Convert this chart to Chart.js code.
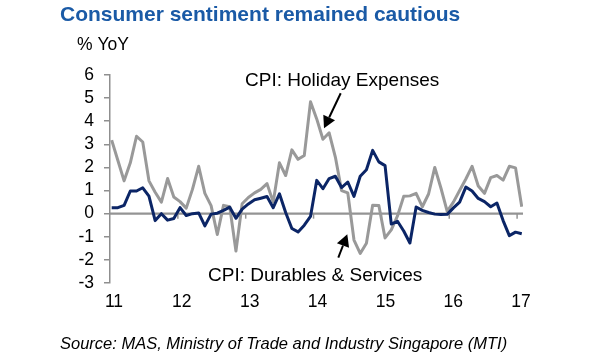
<!DOCTYPE html>
<html>
<head>
<meta charset="utf-8">
<script src="https://cdn.jsdelivr.net/npm/chart.js@4.4.1/dist/chart.umd.min.js"></script>
<style>
  html, body { margin: 0; padding: 0; background: #ffffff; }
  #wrap { width: 600px; height: 360px; position: relative; }
</style>
</head>
<body>
<div id="wrap"><canvas id="c" width="600" height="360"></canvas></div>
<script>
// ---- data (monthly observations, in order) ----
const durablesServices = [
  0.26, 0.26, 0.36, 0.98, 0.98, 1.12, 0.76, -0.30, 0.00, -0.28,
  -0.21, 0.26, -0.08, 0.00, 0.03, -0.53, -0.02, 0.02, 0.14, 0.28,
  -0.20, 0.20, 0.42, 0.60, 0.67, 0.74, 0.26, 0.86, 0.05, -0.64,
  -0.79, -0.50, -0.12, 1.44, 1.08, 1.52, 1.62, 1.13, 1.37, 0.75,
  1.62, 1.90, 2.74, 2.24, 2.08, -0.45, -0.33, -0.75, -1.27, 0.29,
  0.14, 0.05, -0.02, -0.04, -0.03, 0.25, 0.50, 1.15, 0.98, 0.66,
  0.52, 0.30, 0.46, -0.30, -0.95, -0.80, -0.87
];
const holidayExpenses = [
  3.18, 2.30, 1.42, 2.20, 3.35, 3.10, 1.42, 0.93, 0.50, 1.52,
  0.72, 0.52, 0.24, 1.05, 2.05, 0.88, 0.35, -0.90, 0.36, 0.30,
  -1.62, 0.43, 0.70, 0.90, 1.05, 1.30, 0.50, 2.20, 1.65, 2.76,
  2.35, 2.52, 4.84, 4.10, 3.22, 3.50, 2.45, 1.00, 0.90, -1.14,
  -1.72, -1.28, 0.36, 0.35, -1.05, -0.70, -0.10, 0.75, 0.77, 0.88,
  0.30, 0.85, 2.00, 1.10, 0.10, 0.50, 1.00, 1.50, 2.05, 1.20,
  0.88, 1.56, 1.65, 1.45, 2.05, 1.98, 0.30
];
const yearLabels = ['11', '12', '13', '14', '15', '16', '17'];
// where each year label sits, in observation-index units
const yearTickAt = [-0.27, 10.65, 21.57, 32.49, 43.41, 54.33, 65.25];
const yTickMin = -3, yTickMax = 6, yTickStep = 1;

const FONT = '"Liberation Sans", Arial, Helvetica, sans-serif';
const GRAY_AXIS = '#8f8f8f';

const toXY = arr => arr.map((v, i) => ({ x: i, y: v }));

const decor = {
  id: 'decor',
  beforeDatasetsDraw(chart) {
    const { ctx, chartArea, scales } = chart;
    const y0 = scales.y.getPixelForValue(0);
    ctx.save();
    ctx.strokeStyle = '#949494';
    ctx.lineWidth = 2.2;
    ctx.beginPath();
    ctx.moveTo(chartArea.left, y0);
    ctx.lineTo(chartArea.right, y0);
    ctx.stroke();
    ctx.lineWidth = 1.5;
    scales.x.ticks.forEach(t => {
      const px = scales.x.getPixelForValue(t.value);
      if (px <= chartArea.left + 1) return;
      ctx.beginPath();
      ctx.moveTo(px, y0);
      ctx.lineTo(px, y0 + 5);
      ctx.stroke();
    });
    ctx.restore();
  },
  afterDraw(chart) {
    const ctx = chart.ctx;
    ctx.save();
    ctx.textBaseline = 'alphabetic';
    ctx.textAlign = 'left';
    ctx.fillStyle = '#1a5aa6';
    ctx.font = 'bold 21px ' + FONT;
    ctx.fillText('Consumer sentiment remained cautious', 60, 21);
    ctx.fillStyle = '#000';
    ctx.font = '17.5px ' + FONT;
    ctx.fillText('% YoY', 77, 49.5);
    ctx.font = '19px ' + FONT;
    ctx.fillText('CPI: Holiday Expenses', 245, 86);
    ctx.fillText('CPI: Durables & Services', 208, 281);
    ctx.font = 'italic 16.5px ' + FONT;
    ctx.fillText('Source: MAS, Ministry of Trade and Industry Singapore (MTI)', 60, 349);

    function arrow(x1, y1, x2, y2) {
      const ang = Math.atan2(y2 - y1, x2 - x1);
      const hl = 12, hw = 6.5;
      const bx = x2 - hl * Math.cos(ang), by = y2 - hl * Math.sin(ang);
      ctx.strokeStyle = '#000';
      ctx.lineWidth = 2;
      ctx.beginPath();
      ctx.moveTo(x1, y1);
      ctx.lineTo(bx, by);
      ctx.stroke();
      ctx.fillStyle = '#000';
      ctx.beginPath();
      ctx.moveTo(x2, y2);
      ctx.lineTo(bx + hw * Math.sin(ang), by - hw * Math.cos(ang));
      ctx.lineTo(bx - hw * Math.sin(ang), by + hw * Math.cos(ang));
      ctx.closePath();
      ctx.fill();
    }
    arrow(340.7, 93.3, 324, 128.3);
    arrow(338.3, 257.7, 347.3, 234.3);
    ctx.restore();
  }
};

new Chart(document.getElementById('c'), {
  type: 'line',
  data: {
    datasets: [
      {
        label: 'CPI: Durables & Services',
        data: toXY(durablesServices),
        borderColor: '#0b2566',
        borderWidth: 3,
        pointRadius: 0,
        tension: 0,
        borderJoinStyle: 'round'
      },
      {
        label: 'CPI: Holiday Expenses',
        data: toXY(holidayExpenses),
        borderColor: '#999999',
        borderWidth: 3,
        pointRadius: 0,
        tension: 0,
        borderJoinStyle: 'round'
      }
    ]
  },
  plugins: [decor],
  options: {
    responsive: false,
    animation: false,
    devicePixelRatio: 1,
    layout: { padding: { left: 60, right: 77, top: 75, bottom: 47 } },
    plugins: { legend: { display: false }, tooltip: { enabled: false }, title: { display: false } },
    scales: {
      x: {
        type: 'linear',
        min: yearTickAt[0],
        max: 66.2,
        afterBuildTicks: s => { s.ticks = yearTickAt.map(v => ({ value: v })); },
        afterFit: s => { s.height = 30; },
        grid: { display: false, drawTicks: false },
        border: { display: false },
        ticks: {
          autoSkip: false,
          maxRotation: 0,
          padding: 9,
          labelOffset: 4,
          color: '#000',
          font: { family: FONT, size: 17.5 },
          callback: (v, i) => yearLabels[i]
        }
      },
      y: {
        min: yTickMin,
        max: yTickMax,
        afterFit: s => { s.width = 50; },
        ticks: {
          stepSize: yTickStep,
          autoSkip: false,
          padding: 10,
          color: '#000',
          font: { family: FONT, size: 17.5 }
        },
        grid: { drawOnChartArea: false, drawTicks: true, tickLength: 6, color: GRAY_AXIS, lineWidth: 1.5 },
        border: { display: true, color: GRAY_AXIS, width: 1.5 }
      }
    }
  }
});
</script>
</body>
</html>
